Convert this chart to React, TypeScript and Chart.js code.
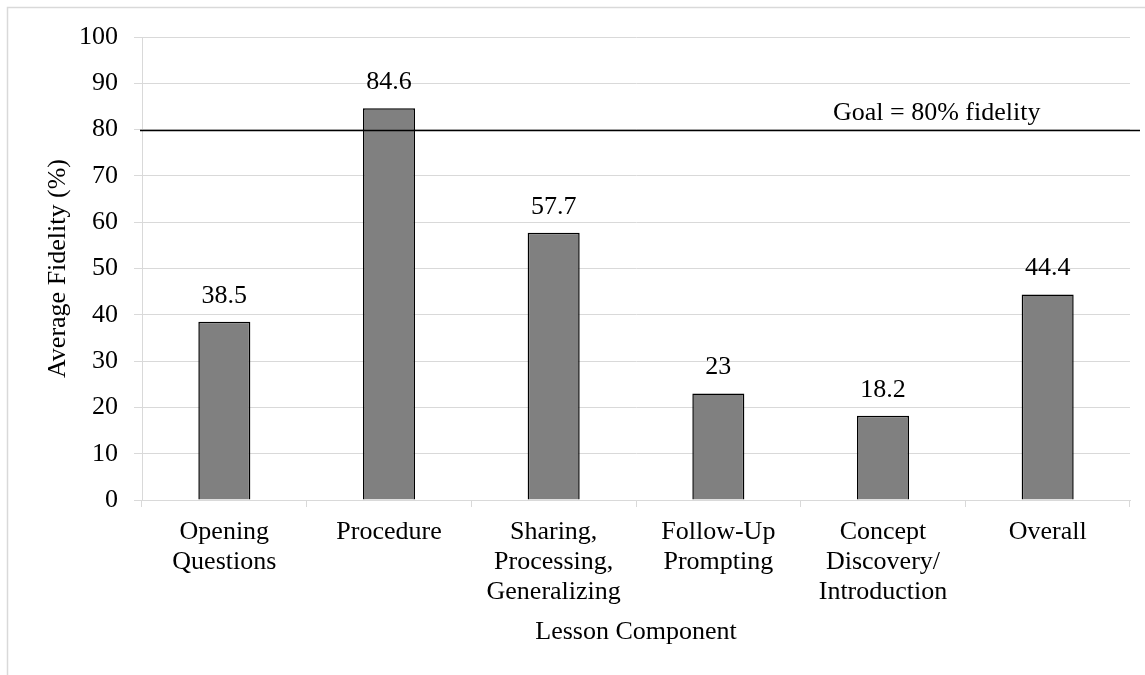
import React, { useEffect, useRef } from "react";
import { Chart, registerables } from "chart.js";

Chart.register(...registerables);

const categories: string[][] = [
  ["Opening", "Questions"],
  ["Procedure"],
  ["Sharing,", "Processing,", "Generalizing"],
  ["Follow-Up", "Prompting"],
  ["Concept", "Discovery/", "Introduction"],
  ["Overall"],
];
const fidelityValues: number[] = [38.5, 84.6, 57.7, 23, 18.2, 44.4];
const valueLabels: string[] = ["38.5", "84.6", "57.7", "23", "18.2", "44.4"];
const goalValue = 80;
const goalLabel = "Goal = 80% fidelity";
const yTicks: number[] = [0, 10, 20, 30, 40, 50, 60, 70, 80, 90, 100];

const FONT = '"Liberation Serif", "Times New Roman", serif';
const FS = 26;

const decorPlugin = {
  id: "decor",
  beforeDraw(chart: any) {
    const { ctx } = chart;
    ctx.save();
    ctx.strokeStyle = "#d9d9d9";
    ctx.lineWidth = 1.5;
    ctx.strokeRect(7.5, 7.5, chart.width + 10, chart.height + 10);
    ctx.restore();
  },
  afterDatasetsDraw(chart: any) {
    const { ctx, scales } = chart;
    const y = scales.y;
    const gy = Math.round(y.getPixelForValue(goalValue)) + 0.5;
    ctx.save();
    ctx.strokeStyle = "#000";
    ctx.lineWidth = 1.5;
    ctx.beginPath();
    ctx.moveTo(140, gy);
    ctx.lineTo(1140, gy);
    ctx.stroke();
    ctx.fillStyle = "#000";
    ctx.font = `${FS}px ${FONT}`;
    ctx.textAlign = "left";
    ctx.textBaseline = "alphabetic";
    ctx.fillText(goalLabel, 833, gy - 11);
    const meta = chart.getDatasetMeta(0);
    ctx.textAlign = "center";
    ctx.textBaseline = "middle";
    meta.data.forEach((bar: any, i: number) => {
      ctx.fillText(valueLabels[i], bar.x, bar.y - 26);
    });
    ctx.restore();
  },
};

export default function App() {
  const ref = useRef<HTMLCanvasElement | null>(null);
  useEffect(() => {
    if (!ref.current) return;
    const chart = new Chart(ref.current, {
      type: "bar",
      data: {
        labels: categories,
        datasets: [
          {
            data: fidelityValues,
            backgroundColor: "#808080",
            borderColor: "#000",
            borderWidth: 1.5,
            categoryPercentage: 1,
            barPercentage: 0.316,
          },
        ],
      },
      options: {
        responsive: false,
        animation: false,
        layout: { padding: { top: 37, right: 15, left: 0, bottom: 0 } },
        plugins: {
          legend: { display: false },
          tooltip: { enabled: false },
        },
        scales: {
          x: {
            afterFit: (s: any) => {
              s.height = 175;
            },
            grid: {
              offset: true,
              drawOnChartArea: false,
              drawTicks: true,
              tickLength: 7,
              color: "#d9d9d9",
              lineWidth: 1,
            },
            border: { color: "#d9d9d9", width: 1 },
            ticks: {
              color: "#000",
              font: { family: FONT, size: FS, lineHeight: 1.16 },
              padding: 10,
              maxRotation: 0,
              autoSkip: false,
            },
            title: {
              display: true,
              text: "Lesson Component",
              color: "#000",
              font: { family: FONT, size: FS, lineHeight: 1.2 },
              padding: { top: 0, bottom: 27 },
            },
          },
          y: {
            min: 0,
            max: 100,
            afterFit: (s: any) => {
              s.width = 142;
            },
            afterBuildTicks: (s: any) => {
              s.ticks = yTicks.map((v) => ({ value: v }));
            },
            grid: {
              color: "#d9d9d9",
              lineWidth: 1,
              drawTicks: true,
              tickLength: 8,
            },
            border: { color: "#d9d9d9", width: 1 },
            ticks: {
              color: "#000",
              font: { family: FONT, size: FS },
              padding: 16,
            },
            title: {
              display: true,
              text: "Average Fidelity (%)",
              color: "#000",
              font: { family: FONT, size: FS, lineHeight: 1.2 },
              padding: { top: 43, bottom: 0 },
            },
          },
        },
      },
      plugins: [decorPlugin],
    });
    return () => chart.destroy();
  }, []);
  return (
    <div style={{ position: "absolute", left: 0, top: 0, width: 1145, height: 675, background: "#fff" }}>
      <canvas ref={ref} width={1145} height={675} />
    </div>
  );
}
